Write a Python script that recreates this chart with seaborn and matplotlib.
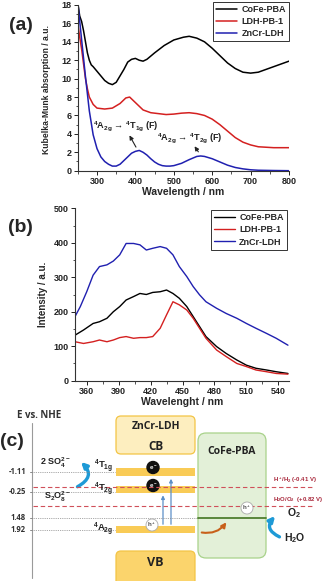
import numpy as np
import pandas as pd
import matplotlib
matplotlib.use('Agg')
import matplotlib.pyplot as plt
import seaborn as sns
from matplotlib.patches import FancyBboxPatch, Rectangle, Circle, FancyArrowPatch
from matplotlib.ticker import MultipleLocator

sns.set_theme(style='ticks')
plt.rcParams['font.family'] = ['Liberation Sans', 'DejaVu Sans']
plt.rcParams['font.weight'] = 'bold'
plt.rcParams['mathtext.fontset'] = 'custom'
plt.rcParams['mathtext.rm'] = 'Liberation Sans:bold'
plt.rcParams['mathtext.it'] = 'Liberation Sans:bold'
plt.rcParams['mathtext.bf'] = 'Liberation Sans:bold'
plt.rcParams['mathtext.default'] = 'rm'

# ---------------- data (a) ----------------
series_names = ['CoFe-PBA', 'LDH-PB-1', 'ZnCr-LDH']
series_colors = ['#000000', '#d42020', '#2020b0']

wl_a_cofe = [250, 255, 260, 265, 270, 275, 280, 285, 290, 300, 310, 320, 330, 340, 350, 360, 370, 380, 390,
             400, 410, 420, 430, 450, 475, 500, 525, 540, 560, 580, 600, 620, 640, 660, 680, 700, 720,
             740, 760, 780, 800]
km_cofe = [18.2, 16.8, 16.2, 15.2, 14.0, 12.8, 12.0, 11.5, 11.3, 10.8, 10.3, 9.8, 9.5, 9.35, 9.6, 10.3, 11.0,
           11.8, 12.1, 12.2, 12.0, 11.9, 12.1, 12.8, 13.6, 14.2, 14.5, 14.6, 14.4, 14.0, 13.3, 12.5,
           11.7, 11.1, 10.7, 10.6, 10.7, 11.0, 11.3, 11.6, 11.9]

wl_a_ldh = [250, 255, 260, 265, 270, 275, 280, 290, 300, 320, 340, 360, 375, 385, 400, 420, 440, 460, 480,
            500, 520, 540, 560, 580, 600, 620, 640, 660, 680, 700, 720, 740, 760, 800]
km_ldh = [16.0, 14.5, 13.2, 11.6, 10.0, 8.9, 8.0, 7.2, 6.8, 6.7, 6.8, 7.3, 7.9, 8.0, 7.4, 6.6, 6.3, 6.2,
          6.1, 6.15, 6.25, 6.3, 6.2, 6.0, 5.6, 5.0, 4.3, 3.6, 3.1, 2.8, 2.6, 2.55, 2.5, 2.5]

wl_a_zncr = [250, 260, 270, 280, 290, 300, 310, 320, 330, 340, 350, 360, 370, 380, 390, 400, 410, 420, 430,
             440, 450, 460, 470, 480, 490, 500, 520, 540, 560, 570, 580, 600, 620, 640, 660, 680, 700,
             720, 760, 800]
km_zncr = [18.3, 14.2, 10.2, 6.5, 3.9, 2.4, 1.5, 1.0, 0.7, 0.5, 0.5, 0.7, 1.1, 1.5, 1.9, 2.1, 2.2, 2.0,
           1.7, 1.3, 0.95, 0.7, 0.55, 0.5, 0.5, 0.55, 0.8, 1.2, 1.55, 1.6, 1.55, 1.3, 0.95, 0.6, 0.35,
           0.2, 0.1, 0.05, 0.02, 0.0]

# ---------------- data (b) ----------------
wl_b_cofe = [349, 357, 366, 372, 379, 385, 391, 397, 404, 410, 416, 422, 429, 435, 441, 447, 454, 460,
             466, 472, 482, 491, 501, 510, 519, 529, 538, 549]
pl_cofe = [132, 147, 166, 171, 181, 200, 215, 234, 244, 253, 250, 256, 258, 263, 253, 239, 215, 186,
           157, 128, 99, 79, 60, 45, 36, 31, 26, 21]
wl_b_ldh = [349, 357, 366, 372, 379, 385, 391, 397, 404, 410, 416, 422, 429, 435, 441, 447, 454, 460,
            466, 472, 482, 491, 501, 510, 519, 529, 538, 549]
pl_ldh = [113, 108, 113, 118, 113, 118, 125, 128, 123, 125, 125, 128, 152, 191, 229, 220, 205, 181,
          152, 123, 89, 70, 50, 41, 31, 26, 21, 19]
wl_b_zncr = [349, 354, 360, 366, 372, 379, 385, 391, 397, 404, 410, 416, 422, 429, 435, 441, 447, 454,
             460, 466, 472, 482, 491, 501, 510, 519, 529, 538, 549]
pl_zncr = [186, 215, 258, 306, 331, 336, 347, 365, 398, 398, 394, 379, 384, 389, 384, 365, 331, 302,
           273, 249, 229, 210, 195, 181, 166, 152, 137, 123, 103]

# ---------------- data (c) ----------------
energy_levels = ['-1.11', '-0.25', '1.48', '1.92']
redox_labels = ['H$^+$/H$_2$ (-0.41 V)', 'H$_2$O/O$_2$  (+0.82 V)']
state_labels = ['$^4$T$_{1g}$', '$^4$T$_{2g}$', '$^4$A$_{2g}$']

W, H = 332, 581
fig = plt.figure(figsize=(W / 100, H / 100), dpi=100)

def frac(x0, y0, x1, y1):
    return [x0 / W, 1 - y1 / H, (x1 - x0) / W, (y1 - y0) / H]

def long_df(xs, ys):
    rows = []
    for name, x, y in zip(series_names, xs, ys):
        rows.append(pd.DataFrame({'x': x, 'y': y, 'series': name}))
    return pd.concat(rows, ignore_index=True)

pal = dict(zip(series_names, series_colors))

def style_axes(ax):
    sns.despine(ax=ax)
    for s in ['left', 'bottom']:
        ax.spines[s].set_linewidth(0.8)
        ax.spines[s].set_color('#333333')
    ax.tick_params(which='major', direction='out', length=3, width=0.7, labelsize=6.5, pad=1.5, colors='#222222')
    ax.tick_params(which='minor', direction='out', length=1.8, width=0.6, colors='#333333')
    for lab in ax.get_xticklabels() + ax.get_yticklabels():
        lab.set_fontweight('bold')

# ---- panel (a)
ax1 = fig.add_axes(frac(77.8, 5, 289, 170.7))
dfa = long_df([wl_a_cofe, wl_a_ldh, wl_a_zncr], [km_cofe, km_ldh, km_zncr])
sns.lineplot(data=dfa, x='x', y='y', hue='series', palette=pal, ax=ax1, linewidth=1.1, sort=False,
             estimator=None)
ax1.set_xlim(250, 800)
ax1.set_ylim(0, 18)
ax1.xaxis.set_major_locator(MultipleLocator(100))
ax1.xaxis.set_minor_locator(MultipleLocator(50))
ax1.yaxis.set_major_locator(MultipleLocator(2))
ax1.yaxis.set_minor_locator(MultipleLocator(1))
ax1.set_xlabel('Wavelength / nm', fontsize=7.5, fontweight='bold', labelpad=1)
ax1.set_ylabel('Kubelka-Munk absorption / a.u.', fontsize=6.2, fontweight='bold')
ax1.yaxis.set_label_coords(-0.125, 0.49)
style_axes(ax1)
leg = ax1.legend(loc='upper right', bbox_to_anchor=(1.0, 1.02), fontsize=6.5, frameon=True, fancybox=False,
                 edgecolor='#000000', handlelength=2.3, handletextpad=0.5, labelspacing=0.35, borderpad=0.35,
                 borderaxespad=0.0, title=None)
leg.get_frame().set_linewidth(0.7)
for t in leg.get_texts():
    t.set_fontweight('bold')
ax1.text(376, 4.85, '$^4$A$_{2g}$ → $^4$T$_{1g}$ (F)', fontsize=6.6, ha='center', va='center', color='#222222')
ax1.text(542, 3.55, '$^4$A$_{2g}$ → $^4$T$_{2g}$ (F)', fontsize=6.6, ha='center', va='center', color='#222222')
ax1.annotate('', xy=(381, 4.1), xytext=(405, 2.3),
             arrowprops=dict(arrowstyle='-|>', color='#222222', lw=0.8, mutation_scale=6))
ax1.annotate('', xy=(550, 2.9), xytext=(568, 1.8),
             arrowprops=dict(arrowstyle='-|>', color='#222222', lw=0.8, mutation_scale=6))
fig.text(21 / W, 1 - 25 / H, '(a)', fontsize=14, fontweight='bold', ha='center', va='center')

# ---- panel (b)
ax2 = fig.add_axes(frac(75, 208.3, 289, 380.7))
dfb = long_df([wl_b_cofe, wl_b_ldh, wl_b_zncr], [pl_cofe, pl_ldh, pl_zncr])
sns.lineplot(data=dfb, x='x', y='y', hue='series', palette=pal, ax=ax2, linewidth=1.0, sort=False,
             estimator=None)
ax2.set_xlim(349, 550)
ax2.set_ylim(0, 500)
ax2.xaxis.set_major_locator(MultipleLocator(30))
ax2.xaxis.set_minor_locator(MultipleLocator(15))
ax2.yaxis.set_major_locator(MultipleLocator(100))
ax2.yaxis.set_minor_locator(MultipleLocator(50))
ax2.set_xlabel('Wavelenght / nm', fontsize=7.5, fontweight='bold', labelpad=1)
ax2.set_ylabel('Intensity / a.u.', fontsize=7, fontweight='bold', labelpad=4)
style_axes(ax2)
leg2 = ax2.legend(loc='upper right', bbox_to_anchor=(0.99, 0.99), fontsize=6.5, frameon=True, fancybox=False,
                  edgecolor='#000000', handlelength=2.3, handletextpad=0.5, labelspacing=0.35, borderpad=0.35,
                  borderaxespad=0.0, title=None)
leg2.get_frame().set_linewidth(0.7)
for t in leg2.get_texts():
    t.set_fontweight('bold')
fig.text(20 / W, 1 - 228 / H, '(b)', fontsize=14, fontweight='bold', ha='center', va='center')

# ---- panel (c): schematic in pixel space
ax3 = fig.add_axes([0, 0, 1, 1], zorder=-1)
ax3.set_xlim(0, W)
ax3.set_ylim(H, 0)
ax3.axis('off')
cfont = ['Open Sans', 'DejaVu Sans']

ax3.text(12, 442, '(c)', fontsize=14, fontweight='bold', ha='center', va='center')
ax3.text(39, 415, 'E vs. NHE', fontsize=7, fontweight='bold', ha='center', va='center', family=cfont,
         color='#333333')
ax3.plot([32, 32], [423, 578], color='#9a9a9a', lw=0.8)

level_y = [472, 491.5, 518, 530]
dot_end = [115, 115, 198, 115]
for lab, y, xe in zip(energy_levels, level_y, dot_end):
    ax3.plot([32, xe], [y, y], color='#8a8a8a', lw=0.6, ls=(0, (1, 1.2)))
    ax3.plot([29.5, 32], [y, y], color='#8a8a8a', lw=0.7)
    ax3.text(26, y, lab, fontsize=5.5, fontweight='bold', ha='right', va='center', family=cfont,
             color='#333333')

# redox dashed lines
redox_y = [486.7, 506]
for lab, y in zip(redox_labels, redox_y):
    ax3.plot([33, 312], [y, y], color='#d0505a', lw=0.8, ls=(0, (4, 2.5)))
    ax3.text(273, y - 6, lab, fontsize=4.3, ha='left', va='center', color='#a8263a', fontweight='bold')

# ZnCr-LDH CB box
ax3.add_patch(FancyBboxPatch((116, 416), 79, 38, boxstyle='round,pad=0,rounding_size=5',
                             fc='#fdeebf', ec='#f3c445', lw=0.9))
ax3.text(155.5, 426.5, 'ZnCr-LDH', fontsize=7.5, fontweight='bold', ha='center', va='center', family=cfont,
         color='#222222')
ax3.text(155.5, 447, 'CB', fontsize=8.5, fontweight='bold', ha='center', va='center', family=cfont,
         color='#222222')
# VB box
ax3.add_patch(FancyBboxPatch((116, 551), 79, 45, boxstyle='round,pad=0,rounding_size=5',
                             fc='#fbd46c', ec='#f3c445', lw=0.9))
ax3.text(155.5, 562.5, 'VB', fontsize=9, fontweight='bold', ha='center', va='center', family=cfont,
         color='#222222')

# bands
band_rows = [(468, 476), (486, 492.5), (526, 533)]
for (y0, y1) in band_rows:
    ax3.add_patch(Rectangle((116, y0), 79, y1 - y0, fc='#f9cb56', ec='none'))
label_y = [466.5, 489.5, 529.5]
for lab, y in zip(state_labels, label_y):
    ax3.text(113, y, lab, fontsize=6.8, ha='right', va='center', color='#222222')

# CoFe-PBA box
ax3.add_patch(FancyBboxPatch((198, 433), 68, 125, boxstyle='round,pad=0,rounding_size=8',
                             fc='#e3f0d8', ec='#a8d28a', lw=0.9))
ax3.text(232, 452, 'CoFe-PBA', fontsize=7.5, fontweight='bold', ha='center', va='center', family=cfont,
         color='#222222')
ax3.plot([198, 266], [518, 518], color='#4f7f2f', lw=1.3)

# electrons and holes
for y in [467.5, 485.5]:
    ax3.add_patch(Circle((153, y), 6, fc='#111111', ec='#111111'))
    ax3.text(153, y, 'e$^-$', fontsize=4.5, color='white', ha='center', va='center')
for (x, y) in [(152, 525), (247, 508)]:
    ax3.add_patch(Circle((x, y), 6, fc='white', ec='#aaaaaa', lw=0.6, zorder=5))
    ax3.text(x, y, 'h$^+$', fontsize=4.5, color='#555555', ha='center', va='center', zorder=6)

# excitation arrows
for x, y1 in [(163, 492.5), (171, 476)]:
    ax3.add_patch(FancyArrowPatch((x, 527), (x, y1), arrowstyle='-|>', mutation_scale=5,
                                  color='#5b8fc8', lw=0.9))

# orange transfer arrow
ax3.add_patch(FancyArrowPatch((199, 532), (228, 520), connectionstyle='arc3,rad=0.35', arrowstyle='-|>',
                              mutation_scale=7, color='#c8601a', lw=1.5))

# blue curved arrows
ax3.add_patch(FancyArrowPatch((75, 488), (79, 460), connectionstyle='arc3,rad=0.75', arrowstyle='-|>',
                              mutation_scale=8, color='#1e9ad6', lw=2.4))
ax3.add_patch(FancyArrowPatch((282, 538), (277, 514), connectionstyle='arc3,rad=-0.75', arrowstyle='-|>',
                              mutation_scale=8, color='#1e9ad6', lw=2.4))

ax3.text(55, 463, '2 SO$_4^{2-}$', fontsize=6.5, ha='center', va='center', color='#222222')
ax3.text(58, 497, 'S$_2$O$_8^{2-}$', fontsize=6.5, ha='center', va='center', color='#222222')
ax3.text(287, 513, 'O$_2$', fontsize=7.5, ha='left', va='center', color='#222222')
ax3.text(284, 538, 'H$_2$O', fontsize=7.5, ha='left', va='center', color='#222222')

fig.savefig('out.png', dpi=100)
